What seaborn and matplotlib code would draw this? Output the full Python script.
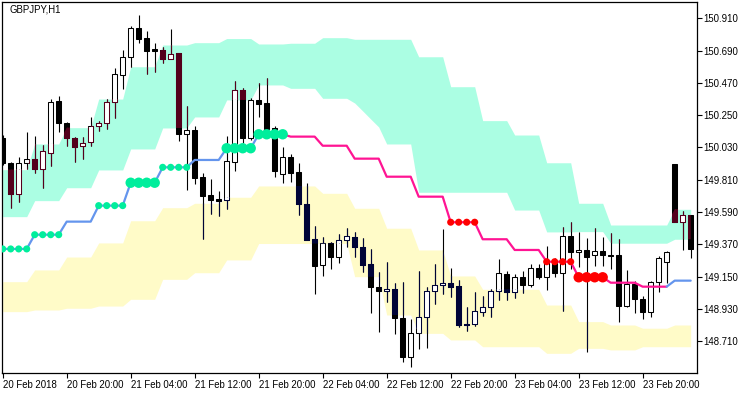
import matplotlib
matplotlib.use("Agg")
import matplotlib.pyplot as plt
import numpy as np
import pandas as pd
import seaborn as sns

# ---------------- data ----------------
title = "GBPJPY,H1"
tick_bars = [0, 8, 16, 24, 32, 40, 48, 56, 64, 72, 80]
tick_labels = ["20 Feb 2018", "20 Feb 20:00", "21 Feb 04:00", "21 Feb 12:00",
               "21 Feb 20:00", "22 Feb 04:00", "22 Feb 12:00", "22 Feb 20:00",
               "23 Feb 04:00", "23 Feb 12:00", "23 Feb 20:00"]
y_ticks = [150.910, 150.690, 150.470, 150.250, 150.030, 149.810,
           149.590, 149.370, 149.150, 148.930, 148.710]

open_ = [150.097, 149.922, 149.715, 149.922, 149.950, 149.882, 149.995, 150.347, 150.195, 150.095,
         150.038, 150.065, 150.174, 150.195, 150.338, 150.522, 150.644, 150.842, 150.776, 150.699,
         150.694, 150.635, 150.672, 150.124, 150.149, 149.829, 149.707, 149.677, 149.670, 149.933,
         150.422, 150.093, 150.354, 150.331, 150.161, 149.847, 149.963, 149.861, 149.645, 149.407,
         149.232, 149.380, 149.282, 149.398, 149.418, 149.350, 149.237, 149.080, 149.051, 149.066,
         148.869, 148.601, 148.764, 148.878, 149.053, 149.091, 149.105, 149.087, 148.828, 148.826,
         148.908, 148.942, 149.053, 149.168, 149.044, 149.148, 149.091, 149.209, 149.146, 149.241,
         149.173, 149.425, 149.316, 149.332, 149.296, 149.325, 149.296, 149.298, 148.953, 149.100,
         148.998, 148.908, 149.116, 149.252, 149.918, 149.525, 149.568]
high = [150.115, 149.933, 149.967, 150.136, 150.108, 150.047, 150.358, 150.381, 150.204, 150.104,
        150.104, 150.238, 150.211, 150.358, 150.569, 150.694, 150.860, 150.932, 150.821, 150.740,
        150.717, 150.836, 150.672, 150.313, 150.176, 149.854, 149.815, 149.736, 150.108, 150.483,
        150.435, 150.365, 150.467, 150.501, 150.176, 150.031, 149.986, 149.922, 149.786, 149.495,
        149.418, 149.386, 149.441, 149.480, 149.452, 149.412, 149.337, 149.182, 149.250, 149.109,
        149.112, 148.862, 149.189, 149.082, 149.237, 149.475, 149.207, 149.128, 148.942, 149.044,
        149.021, 149.064, 149.269, 149.189, 149.170, 149.187, 149.237, 149.235, 149.357, 149.275,
        149.491, 149.521, 149.452, 149.412, 149.480, 149.418, 149.446, 149.407, 149.196, 149.123,
        149.019, 149.123, 149.291, 149.325, 149.918, 149.598, 149.568]
low = [149.911, 149.620, 149.661, 149.882, 149.854, 149.752, 149.906, 150.136, 150.042, 149.933,
       149.954, 150.042, 150.140, 150.158, 150.233, 150.428, 150.576, 150.744, 150.531, 150.546,
       150.603, 150.635, 150.076, 149.741, 149.781, 149.407, 149.577, 149.563, 149.611, 149.872,
       150.059, 150.081, 150.240, 150.142, 149.831, 149.790, 149.797, 149.572, 149.397, 149.034,
       149.157, 149.205, 149.245, 149.354, 149.286, 149.180, 148.901, 148.771, 148.976, 148.760,
       148.571, 148.537, 148.660, 148.662, 148.966, 149.032, 149.014, 148.810, 148.780, 148.814,
       148.884, 148.878, 148.989, 148.989, 149.003, 149.041, 149.078, 149.132, 149.059, 149.146,
       148.918, 149.202, 149.214, 148.639, 149.223, 149.223, 149.205, 148.844, 148.942, 148.905,
       148.864, 148.878, 149.048, 149.109, 149.525, 149.334, 149.279]
close = [149.922, 149.715, 149.922, 149.950, 149.886, 150.004, 150.338, 150.195, 150.093, 150.035,
         150.059, 150.174, 150.195, 150.338, 150.529, 150.644, 150.842, 150.771, 150.689, 150.689,
         150.633, 150.669, 150.122, 150.147, 149.824, 149.700, 149.672, 149.668, 149.938, 150.422,
         150.097, 150.354, 150.328, 150.156, 149.872, 149.963, 149.858, 149.643, 149.402, 149.225,
         149.378, 149.286, 149.398, 149.425, 149.350, 149.228, 149.082, 149.051, 149.064, 148.867,
         148.601, 148.764, 148.873, 149.053, 149.091, 149.105, 149.082, 148.823, 148.819, 148.914,
         148.942, 149.053, 149.175, 149.044, 149.146, 149.091, 149.207, 149.146, 149.250, 149.173,
         149.425, 149.316, 149.332, 149.286, 149.323, 149.296, 149.293, 148.953, 149.100, 148.996,
         148.912, 149.112, 149.275, 149.318, 149.525, 149.568, 149.337]

upper_band_top = [149.879, 149.879, 149.879, 149.879, 150.054, 150.054, 150.054, 150.054, 150.165, 150.165,
                  150.165, 150.165, 150.360, 150.360, 150.360, 150.360, 150.580, 150.580, 150.580, 150.580,
                  150.728, 150.728, 150.728, 150.728, 150.744, 150.744, 150.744, 150.744, 150.772, 150.772,
                  150.772, 150.772, 150.735, 150.735, 150.735, 150.735, 150.740, 150.740, 150.740, 150.740,
                  150.778, 150.778, 150.778, 150.778, 150.767, 150.767, 150.767, 150.767, 150.767, 150.767,
                  150.767, 150.767, 150.648, 150.648, 150.648, 150.648, 150.444, 150.444, 150.444, 150.444,
                  150.213, 150.213, 150.213, 150.213, 150.115, 150.115, 150.115, 150.115, 149.926, 149.926,
                  149.926, 149.926, 149.650, 149.650, 149.650, 149.650, 149.502, 149.502, 149.502, 149.502,
                  149.502, 149.502, 149.502, 149.502, 149.609, 149.609, 149.609]
upper_band_bot = [149.559, 149.559, 149.559, 149.559, 149.668, 149.668, 149.668, 149.668, 149.756, 149.756,
                  149.756, 149.756, 149.877, 149.877, 149.877, 149.877, 150.020, 150.020, 150.020, 150.020,
                  150.163, 150.163, 150.163, 150.163, 150.238, 150.238, 150.238, 150.238, 150.354, 150.354,
                  150.354, 150.354, 150.456, 150.456, 150.456, 150.456, 150.433, 150.433, 150.433, 150.433,
                  150.365, 150.365, 150.365, 150.365, 150.333, 150.279, 150.224, 150.170, 150.054, 150.054,
                  150.054, 150.054, 149.725, 149.725, 149.725, 149.725, 149.725, 149.725, 149.725, 149.725,
                  149.725, 149.725, 149.725, 149.725, 149.604, 149.604, 149.604, 149.604, 149.455, 149.455,
                  149.455, 149.455, 149.457, 149.457, 149.457, 149.457, 149.378, 149.378, 149.378, 149.378,
                  149.378, 149.378, 149.378, 149.378, 149.405, 149.405, 149.405]
lower_band_top = [149.116, 149.116, 149.116, 149.116, 149.196, 149.196, 149.196, 149.196, 149.284, 149.284,
                  149.284, 149.284, 149.380, 149.380, 149.380, 149.380, 149.531, 149.531, 149.531, 149.531,
                  149.620, 149.620, 149.620, 149.620, 149.650, 149.650, 149.650, 149.650, 149.691, 149.691,
                  149.691, 149.691, 149.768, 149.768, 149.768, 149.768, 149.768, 149.768, 149.768, 149.768,
                  149.718, 149.718, 149.718, 149.718, 149.616, 149.616, 149.616, 149.616, 149.480, 149.480,
                  149.480, 149.480, 149.332, 149.332, 149.332, 149.332, 149.155, 149.155, 149.155, 149.155,
                  149.064, 149.064, 149.064, 149.064, 149.064, 149.064, 149.064, 149.064, 148.957, 148.957,
                  148.957, 148.957, 148.844, 148.844, 148.844, 148.844, 148.821, 148.821, 148.821, 148.821,
                  148.799, 148.799, 148.799, 148.799, 148.821, 148.821, 148.821]
lower_band_bot = [148.912, 148.912, 148.912, 148.912, 148.923, 148.923, 148.923, 148.923, 148.935, 148.935,
                  148.935, 148.935, 148.950, 148.950, 148.950, 148.950, 148.996, 148.996, 148.996, 148.996,
                  149.132, 149.132, 149.132, 149.132, 149.177, 149.177, 149.177, 149.177, 149.264, 149.264,
                  149.264, 149.264, 149.376, 149.376, 149.376, 149.376, 149.376, 149.376, 149.376, 149.376,
                  149.376, 149.376, 149.376, 149.376, 149.150, 149.150, 149.150, 149.150, 148.889, 148.889,
                  148.889, 148.889, 148.764, 148.764, 148.764, 148.764, 148.719, 148.719, 148.719, 148.719,
                  148.673, 148.673, 148.673, 148.673, 148.673, 148.673, 148.673, 148.673, 148.628, 148.628,
                  148.628, 148.628, 148.662, 148.662, 148.662, 148.662, 148.651, 148.651, 148.651, 148.651,
                  148.673, 148.673, 148.673, 148.673, 148.673, 148.673, 148.673]
mid_line = [149.339, 149.339, 149.339, 149.339, 149.436, 149.436, 149.436, 149.436, 149.525, 149.525,
            149.525, 149.525, 149.634, 149.634, 149.634, 149.634, 149.790, 149.790, 149.790, 149.790,
            149.895, 149.895, 149.895, 149.895, 149.945, 149.945, 149.945, 149.945, 150.025, 150.025,
            150.025, 150.025, 150.120, 150.120, 150.120, 150.120, 150.104, 150.104, 150.104, 150.104,
            150.042, 150.042, 150.042, 150.042, 149.954, 149.954, 149.954, 149.954, 149.831, 149.831,
            149.831, 149.831, 149.695, 149.695, 149.695, 149.695, 149.521, 149.521, 149.521, 149.521,
            149.405, 149.405, 149.405, 149.405, 149.332, 149.332, 149.332, 149.332, 149.252, 149.252,
            149.252, 149.252, 149.146, 149.146, 149.146, 149.146, 149.109, 149.109, 149.109, 149.109,
            149.082, 149.082, 149.082, 149.082, 149.123, 149.123, 149.123]
# 0 = no dot, 1 = small dot, 2 = large dot
dot_signal = [1, 1, 1, 1, 1, 1, 1, 1, 0, 0,
              0, 0, 1, 1, 1, 1, 2, 2, 2, 2,
              1, 1, 1, 1, 0, 0, 0, 0, 2, 2,
              2, 2, 2, 2, 2, 2, 0, 0, 0, 0,
              0, 0, 0, 0, 0, 0, 0, 0, 0, 0,
              0, 0, 0, 0, 0, 0, 1, 1, 1, 1,
              0, 0, 0, 0, 0, 0, 0, 0, 1, 1,
              1, 1, 2, 2, 2, 2, 0, 0, 0, 0,
              0, 0, 0, 0, 0, 0, 0]

# ---------------- style ----------------
AQUA = "#abfee3"
YELLOW = "#fffbc8"
MAROON = "#54001c"
NAVY = "#000437"
BLUE = "#6495ed"
PINK = "#ff1493"
GREEN = "#00ee9c"
RED = "#ff0000"

sns.set_theme(style="white")
plt.rcParams["font.family"] = ["Liberation Sans", "DejaVu Sans"]

W, H = 750, 394
fig = plt.figure(figsize=(W / 100, H / 100), dpi=100)
ax = fig.add_axes([2 / W, 21 / H, 695 / W, 371 / H])

n = len(open_)
x = np.arange(n)
df = pd.DataFrame({"x": x, "open": open_, "high": high, "low": low, "close": close,
                   "mid": mid_line, "dot": dot_signal})

# bands
aq = ax.fill_between(x, upper_band_bot, upper_band_top, color=AQUA, lw=0, zorder=1)
ye = ax.fill_between(x, lower_band_bot, lower_band_top, color=YELLOW, lw=0, zorder=1)

bull = df["close"] >= df["open"]
body_lo = np.minimum(df["open"], df["close"])
body_h = (df["close"] - df["open"]).abs()
BW = 0.56


def draw_candles(dark, zbase, clip=None):
    wl = ax.vlines(df["x"], df["low"], df["high"], colors=dark, lw=0.8, zorder=zbase)
    faces = np.where(bull, "white", dark)
    bars = ax.bar(df["x"], body_h, bottom=body_lo, width=BW, color=faces,
                  edgecolor=dark, linewidth=0.75, zorder=zbase + 0.1)
    if clip is not None:
        path = clip.get_paths()[0]
        wl.set_clip_path(path, ax.transData)
        for p in bars.patches:
            p.set_clip_path(path, ax.transData)


draw_candles("black", 3)
draw_candles(MAROON, 4, aq)
draw_candles(NAVY, 4, ye)

# middle line coloured by its trend
d = np.diff(np.array(mid_line))
trend = [1]
for v in d:
    trend.append(1 if v > 0 else (-1 if v < 0 else trend[-1]))
trend = np.array(trend)
df["trend"] = trend

# split into runs of equal trend (segment i-1 -> i takes colour of trend[i])
runs = []
cur = [0]
for i in range(1, n):
    if len(cur) > 1 and trend[i] != trend[cur[-1]]:
        runs.append(cur)
        cur = [cur[-1]]
    cur.append(i)
runs.append(cur)
for r in runs:
    seg = df.iloc[r]
    col = BLUE if trend[r[-1]] > 0 else PINK
    sns.lineplot(data=seg, x="x", y="mid", color=col, lw=1.6, ax=ax, zorder=5,
                 estimator=None, sort=False)

dots = df[df["dot"] > 0].copy()
dots["col"] = np.where(dots["trend"] > 0, GREEN, RED)
for size_cls, s in [(1, 26), (2, 56)]:
    sub = dots[dots["dot"] == size_cls]
    sns.scatterplot(data=sub, x="x", y="mid", s=s, c=sub["col"].tolist(),
                    edgecolor="none", ax=ax, zorder=6, legend=False)

# axes
ax.set_xlim(-0.0875, 86.79)
ax.set_ylim(148.494, 151.021)
ax.set_xlabel("")
ax.set_ylabel("")
ax.set_xticks(tick_bars)
ax.set_xticklabels(tick_labels, ha="left")
ax.set_yticks(y_ticks)
ax.set_yticklabels([f"{v:.3f}" for v in y_ticks])
ax.yaxis.tick_right()
ax.tick_params(axis="both", which="both", length=3.5, width=0.8, color="black",
               labelsize=6.9, labelcolor="black", direction="out")
ax.tick_params(axis="x", pad=1.5, bottom=True)
ax.tick_params(axis="y", pad=1.2, right=True, left=False)
for lab in ax.get_xticklabels():
    lab.set_horizontalalignment("left")
for sp in ax.spines.values():
    sp.set_color("black")
    sp.set_linewidth(0.9)
    sp.set_visible(True)
ax.set_facecolor("white")
ax.text(7 / 695, 1 - 8 / 371, title, transform=ax.transAxes, fontsize=6.9,
        ha="left", va="center", color="black", zorder=10)

fig.savefig("out.png", dpi=100, facecolor="white")
